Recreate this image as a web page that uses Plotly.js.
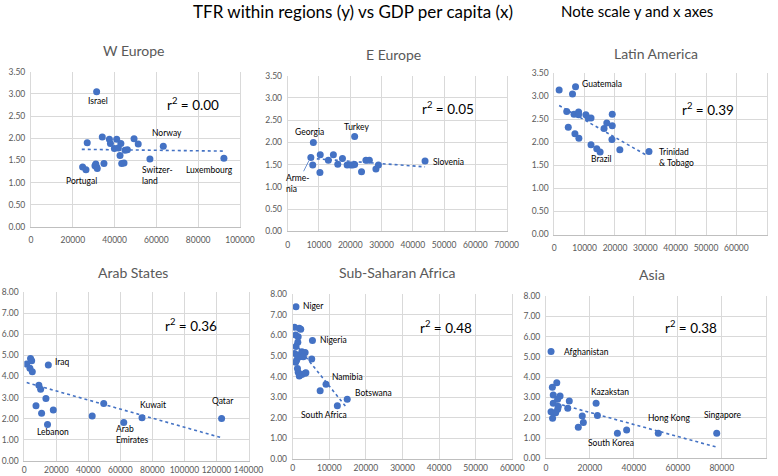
<!DOCTYPE html>
<html>
<head>
<meta charset="utf-8">
<script src="https://cdn.plot.ly/plotly-3.0.1.min.js"></script>
<style>
  body { margin: 0; background: #fff; }
  #tfr { width: 778px; height: 476px; }
</style>
</head>
<body>
<div id="tfr"></div>
<script>

// W Europe
var weGdp = [31400, 26900, 34100, 37500, 38000, 41000, 43000, 39900, 41800, 45000, 46100, 49300, 51300, 63300,
             42600, 43400, 44500, 34900, 31000, 31400, 30600, 31700, 24700, 26300, 56900, 92300];
var weTfr = [3.05, 1.90, 2.03, 1.98, 1.88, 1.98, 1.88, 1.77, 1.78, 1.73, 1.74, 1.99, 1.87, 1.82,
             1.61, 1.43, 1.44, 1.43, 1.42, 1.35, 1.38, 1.32, 1.35, 1.29, 1.53, 1.55];
var weTrendX = [24300, 92300];
var weTrendY = [1.75, 1.71];

// E Europe
var eeGdp = [8200, 7400, 8000, 10300, 10400, 13000, 14600, 16000, 17500, 19000, 20100, 21400, 21400, 20800,
             23600, 25000, 26100, 28200, 29000, 43900];
var eeTfr = [2.00, 1.66, 1.49, 1.32, 1.72, 1.60, 1.72, 1.51, 1.64, 1.49, 1.49, 2.13, 1.50, 1.49,
             1.34, 1.60, 1.60, 1.40, 1.49, 1.58];
var eeTrendX = [7400, 43900];
var eeTrendY = [1.64, 1.45];

// Latin America
var laGdp = [1600, 7000, 6000, 4100, 6500, 8000, 8000, 10400, 11200, 12100, 4600, 6800, 8100, 12100,
             14000, 15100, 16400, 17300, 19100, 19100, 19000, 21600, 31200];
var laTfr = [3.14, 3.21, 3.05, 2.67, 2.61, 2.66, 2.60, 2.60, 2.53, 2.53, 2.33, 2.19, 2.09, 1.95,
             1.86, 1.79, 2.30, 2.42, 2.61, 2.36, 2.06, 1.84, 1.80];
var laTrendX = [1600, 30400];
var laTrendY = [2.80, 1.72];

// Arab States
var arGdp = [1500, 3900, 4600, 3500, 5000, 15000, 9100, 10200, 13500, 7300, 10800, 18100, 14500,
             42400, 49600, 62100, 73500, 123200];
var arTfr = [4.59, 4.86, 4.75, 4.39, 4.23, 4.55, 3.59, 3.39, 2.96, 2.61, 2.25, 2.41, 1.72,
             2.12, 2.72, 1.82, 2.04, 2.01];
var arTrendX = [1500, 122300];
var arTrendY = [3.71, 1.11];

// Sub-Saharan Africa
var ssGdp = [900, 500, 1800, 2200, 800, 1500, 5400, 1400, 900, 500, 1300, 2500, 3400, 2000, 2900, 1100,
             800, 5200, 1300, 1500, 1800, 2500, 3400, 3600, 9100, 7500, 14900, 12200];
var ssTfr = [7.40, 6.40, 6.35, 6.30, 6.02, 5.94, 5.75, 5.67, 5.46, 5.13, 5.05, 5.21, 5.17, 4.97, 4.97, 4.81,
             4.70, 4.86, 4.40, 4.21, 4.03, 4.11, 4.16, 4.19, 3.63, 3.32, 2.90, 2.59];
var ssTrendX = [500, 14900];
var ssTrendY = [5.64, 2.46];

// Asia
var asGdp = [2300, 2900, 4900, 3300, 6400, 5300, 10600, 3300, 2300, 4400, 5300, 5600, 3000, 9900,
             16500, 17000, 14700, 22800, 23400, 32500, 36700, 51100, 77700];
var asTfr = [5.26, 3.50, 3.73, 3.12, 3.07, 2.91, 2.83, 2.71, 2.30, 2.25, 2.42, 2.55, 1.97, 2.47,
             2.09, 1.76, 1.53, 2.71, 2.11, 1.24, 1.40, 1.24, 1.23];
var asTrendX = [2100, 77700];
var asTrendY = [2.79, 0.55];

var panelTitles = ["W Europe", "E Europe", "Latin America", "Arab States", "Sub-Saharan Africa", "Asia"];
var rSquared = ["0.00", "0.05", "0.39", "0.36", "0.48", "0.38"];
var xMax = [100000, 70000, 70000, 140000, 60000, 100000];
var xStep = [20000, 10000, 10000, 20000, 10000, 20000];
var yMax = [3.5, 3.5, 3.5, 8, 8, 8];
var yStep = [0.5, 0.5, 0.5, 1, 1, 1];

var W = 778, H = 476;
var blue = '#4472C4';
var font = 'Lato, "Open Sans", sans-serif';

// plot boxes in pixels: left, right, top, bottom
var boxes = [
  [31, 240, 71.7, 227],
  [287.7, 506.7, 75.7, 231.3],
  [554.3, 766.7, 73.3, 234.5],
  [24.3, 248.5, 292.3, 460.7],
  [292.7, 512.3, 294.3, 459],
  [546, 765.7, 296, 458.3]
];
// title, r2 positions in pixels
var titlePos = [[133, 51], [393, 54], [656, 53], [133, 272], [397, 272], [652, 274]];
var r2Pos = [[193, 104], [448, 108], [708, 109], [191, 325], [446, 327], [691, 327]];

var series = [
  [weGdp, weTfr, weTrendX, weTrendY],
  [eeGdp, eeTfr, eeTrendX, eeTrendY],
  [laGdp, laTfr, laTrendX, laTrendY],
  [arGdp, arTfr, arTrendX, arTrendY],
  [ssGdp, ssTfr, ssTrendX, ssTrendY],
  [asGdp, asTfr, asTrendX, asTrendY]
];

// country labels: [text, px x, px y, anchor]
var labels = [
  ["Israel", 98, 101, "center"], ["Norway", 167, 133, "center"], ["Portugal", 81, 181, "center"],
  ["Switzer-<br>land", 140, 175, "left"], ["Luxembourg", 209, 170, "center"],
  ["Georgia", 309, 132, "center"], ["Turkey", 356, 127, "center"], ["Slovenia", 448, 162, "center"],
  ["Guatemala", 580, 84, "left"], ["Brazil", 601, 159, "center"], ["Trinidad<br>& Tobago", 657, 158, "left"],
  ["Iraq", 63, 362, "center"], ["Lebanon", 53, 432, "center"], ["Arab<br>Emirates", 114, 434, "left"],
  ["Kuwait", 153, 405, "center"], ["Qatar", 223, 401, "center"],
  ["Niger", 313, 306, "center"], ["Nigeria", 333, 340, "center"], ["Namibia", 347, 377, "center"],
  ["Botswana", 373, 393, "center"], ["South Africa", 324, 415, "center"],
  ["Afghanistan", 586, 352, "center"], ["Kazakstan", 610, 392, "center"], ["South Korea", 611, 443, "center"],
  ["Hong Kong", 669, 418, "center"], ["Singapore", 723, 415, "center"]
];

function px(x) { return x / W; }
function py(y) { return 1 - y / H; }

var data = [];
var layout = {
  width: W,
  height: H,
  margin: {l: 0, r: 0, t: 0, b: 0},
  paper_bgcolor: '#fff',
  plot_bgcolor: '#fff',
  showlegend: false,
  font: {family: font, color: '#595959'},
  annotations: []
};

for (var i = 0; i < 6; i++) {
  var n = i === 0 ? '' : String(i + 1);
  var b = boxes[i];
  data.push({
    x: series[i][2], y: series[i][3],
    xaxis: 'x' + n, yaxis: 'y' + n,
    type: 'scatter', mode: 'lines',
    line: {color: blue, width: 1.6, dash: 'dot'},
    hoverinfo: 'skip'
  });
  data.push({
    x: series[i][0], y: series[i][1],
    xaxis: 'x' + n, yaxis: 'y' + n,
    type: 'scatter', mode: 'markers',
    marker: {color: blue, size: 7}
  });
  layout['xaxis' + n] = {
    domain: [px(b[0]), px(b[1])],
    anchor: 'y' + n,
    range: [0, xMax[i]],
    tick0: 0, dtick: xStep[i],
    tickformat: 'd',
    showgrid: true, gridcolor: '#d9d9d9', gridwidth: 1,
    zeroline: false,
    showline: true, linecolor: '#bfbfbf', linewidth: 1,
    ticks: '',
    ticklabelstandoff: i < 3 ? 5 : 1,
    tickfont: {size: 8.5, color: '#595959', family: font},
    fixedrange: true
  };
  layout['yaxis' + n] = {
    domain: [py(b[3]), py(b[2])],
    anchor: 'x' + n,
    range: [0, yMax[i]],
    tick0: 0, dtick: yStep[i],
    tickformat: '.2f',
    showgrid: true, gridcolor: '#d9d9d9', gridwidth: 1,
    zeroline: false,
    showline: true, linecolor: '#d9d9d9', linewidth: 1, mirror: true,
    ticks: '',
    ticklabelstandoff: 3,
    tickfont: {size: 8.5, color: '#595959', family: font},
    fixedrange: true
  };
  layout.annotations.push({
    text: panelTitles[i], xref: 'paper', yref: 'paper',
    x: px(titlePos[i][0]), y: py(titlePos[i][1]),
    xanchor: 'center', yanchor: 'middle', showarrow: false,
    font: {size: 14, color: '#595959', family: font}
  });
  layout.annotations.push({
    text: 'r<sup>2</sup> = ' + rSquared[i], xref: 'paper', yref: 'paper',
    x: px(r2Pos[i][0]), y: py(r2Pos[i][1]),
    xanchor: 'center', yanchor: 'middle', showarrow: false,
    font: {size: 13.5, color: '#000', family: font}
  });
}

labels.forEach(function (l) {
  layout.annotations.push({
    text: l[0], xref: 'paper', yref: 'paper',
    x: px(l[1]), y: py(l[2]),
    xanchor: l[3], yanchor: 'middle', align: 'left', showarrow: false,
    font: {size: 8.5, color: '#000', family: font}
  });
});

// Armenia label with pointer line
layout.annotations.push({
  text: 'Arme-<br>nia', xref: 'x2', yref: 'y2',
  x: 7000, y: 1.62, ax: -12, ay: 24,
  showarrow: true, arrowhead: 0, arrowwidth: 0.8, arrowcolor: blue, standoff: 2,
  align: 'left',
  font: {size: 8.5, color: '#000', family: font}
});

// main titles
layout.annotations.push({
  text: 'TFR within regions (y) vs GDP per capita (x)', xref: 'paper', yref: 'paper',
  x: px(353), y: py(11), xanchor: 'center', yanchor: 'middle', showarrow: false,
  font: {size: 17, color: '#000', family: font}
});
layout.annotations.push({
  text: 'Note scale y and x axes', xref: 'paper', yref: 'paper',
  x: px(637), y: py(11), xanchor: 'center', yanchor: 'middle', showarrow: false,
  font: {size: 15, color: '#000', family: font}
});

Plotly.newPlot('tfr', data, layout, {displayModeBar: false, staticPlot: true});
</script>
</body>
</html>
